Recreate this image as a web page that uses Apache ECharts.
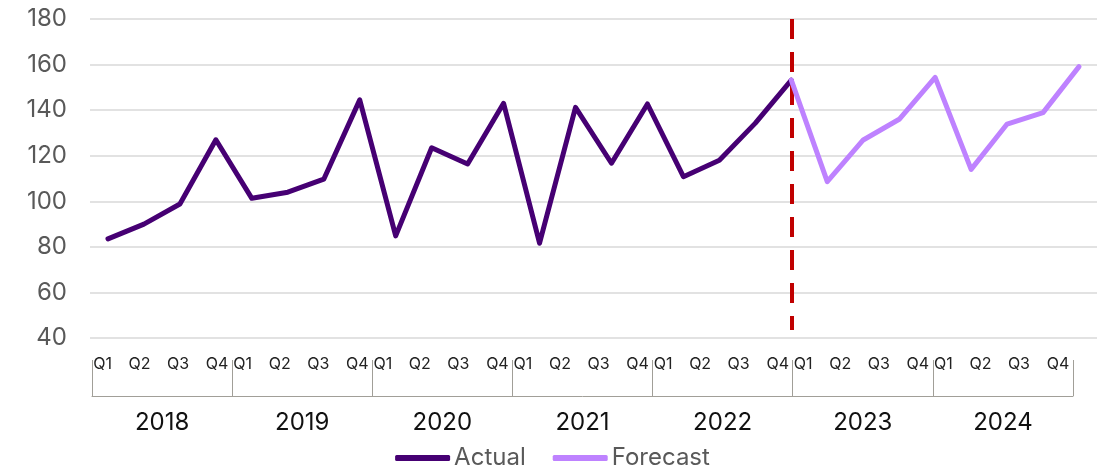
<!DOCTYPE html>
<html>
<head>
<meta charset="utf-8">
<script src="https://cdn.jsdelivr.net/npm/echarts@6/dist/echarts.min.js"></script>
<style>
  html, body { margin: 0; padding: 0; background: #ffffff; }
  #chart { width: 1105px; height: 466px; }
</style>
</head>
<body>
<div id="chart"></div>
<script>
// Quarterly index: actual history and forecast
const years = ['2018', '2019', '2020', '2021', '2022', '2023', '2024'];
const quarters = ['Q1', 'Q2', 'Q3', 'Q4'];
const actualValues = [
  83.5, 90, 98.8, 127,      // 2018
  101.3, 104, 109.7, 144.5, // 2019
  84.8, 123.5, 116.4, 143,  // 2020
  81.6, 141.2, 116.7, 142.7,// 2021
  110.8, 118, 134.3, 153.2  // 2022
];
const forecastValues = [
  108.6, 126.9, 136, 154.4, // 2023
  114, 133.9, 138.9, 159.1  // 2024
];
const yTicks = { min: 40, max: 180, step: 20 };

// Category list for the plot: one entry per quarter
const categories = [];
years.forEach(y => quarters.forEach(q => categories.push(y + ' ' + q)));

// Quarter labels are spread towards the year bracket edges
const quarterPadding = [[0, 14, 0, 0], [0, 10, 0, 0], [0, 3, 0, 0], [0, 0, 0, 5]];
const quarterItems = [];
years.forEach(() => quarters.forEach((q, i) => quarterItems.push({ value: q, textStyle: { padding: quarterPadding[i] } })));

// Forecast line starts from the last actual quarter so the two lines join
const lastActual = actualValues.length - 1;
const actualSeries = actualValues.slice();
const forecastSeries = new Array(lastActual).fill(null)
  .concat([actualValues[lastActual]], forecastValues);

// Vertical divider between history and forecast (value range it spans)
const dividerSpan = [180, 43.5];

const chart = echarts.init(document.getElementById('chart'), null, { renderer: 'canvas' });
const font = 'Inter, "Noto Sans", sans-serif';
const frameColor = '#a19f98';

chart.setOption({
  animation: false,
  textStyle: { fontFamily: font },
  grid: [
    { left: 90, right: 8, top: 19, height: 319, containLabel: false },
    { left: 92, width: 981, top: 360, height: 36, containLabel: false }
  ],
  legend: {
    data: ['Actual', 'Forecast'],
    left: 'center',
    top: 441,
    icon: 'roundRect',
    itemWidth: 55,
    itemHeight: 6,
    itemGap: 27,
    textStyle: { fontFamily: font, fontSize: 24, color: '#595959', padding: [0, 0, 0, -1] }
  },
  xAxis: [
    {
      type: 'category',
      gridIndex: 0,
      data: categories,
      boundaryGap: true,
      axisLine: { show: false },
      axisTick: { show: false },
      axisLabel: { show: false },
      splitLine: { show: false }
    },
    {
      // year row with the bracket frame
      type: 'category',
      gridIndex: 1,
      data: years,
      position: 'bottom',
      boundaryGap: true,
      axisLine: { show: true, lineStyle: { color: frameColor, width: 1 } },
      axisTick: { show: true, inside: true, length: 36, interval: 0, lineStyle: { color: frameColor, width: 1 } },
      axisLabel: { fontFamily: font, fontSize: 24, color: '#111111', margin: 15, interval: 0 },
      splitLine: { show: false }
    },
    {
      // quarter row
      type: 'category',
      gridIndex: 1,
      data: quarterItems,
      position: 'bottom',
      offset: -40,
      boundaryGap: true,
      axisLine: { show: false },
      axisTick: { show: false },
      axisLabel: { fontFamily: font, fontSize: 16, color: '#222222', margin: 0, interval: 0 },
      splitLine: { show: false }
    }
  ],
  yAxis: [
    {
      type: 'value',
      gridIndex: 0,
      min: yTicks.min,
      max: yTicks.max,
      interval: yTicks.step,
      axisLine: { show: false },
      axisTick: { show: false },
      axisLabel: { fontFamily: font, fontSize: 24, color: '#595959', margin: 23 },
      splitLine: { show: true, lineStyle: { color: '#d9d9d9', width: 1.5 } }
    },
    {
      type: 'value',
      gridIndex: 1,
      show: false
    }
  ],
  series: [
    {
      name: 'Actual',
      type: 'line',
      xAxisIndex: 0,
      yAxisIndex: 0,
      data: actualSeries,
      showSymbol: false,
      symbol: 'none',
      z: 3,
      itemStyle: { color: '#460073' },
      lineStyle: { color: '#460073', width: 5, cap: 'round', join: 'round' },
      markLine: {
        silent: true,
        symbol: ['none', 'none'],
        label: { show: false },
        z: 2,
        lineStyle: { color: '#c00000', width: 4, type: [20, 13], cap: 'butt' },
        data: [[
          { coord: [lastActual, dividerSpan[0]] },
          { coord: [lastActual, dividerSpan[1]] }
        ]]
      }
    },
    {
      name: 'Forecast',
      type: 'line',
      xAxisIndex: 0,
      yAxisIndex: 0,
      data: forecastSeries,
      showSymbol: false,
      symbol: 'none',
      z: 3,
      itemStyle: { color: '#be82ff' },
      lineStyle: { color: '#be82ff', width: 5, cap: 'round', join: 'round' }
    }
  ]
});
</script>
</body>
</html>
